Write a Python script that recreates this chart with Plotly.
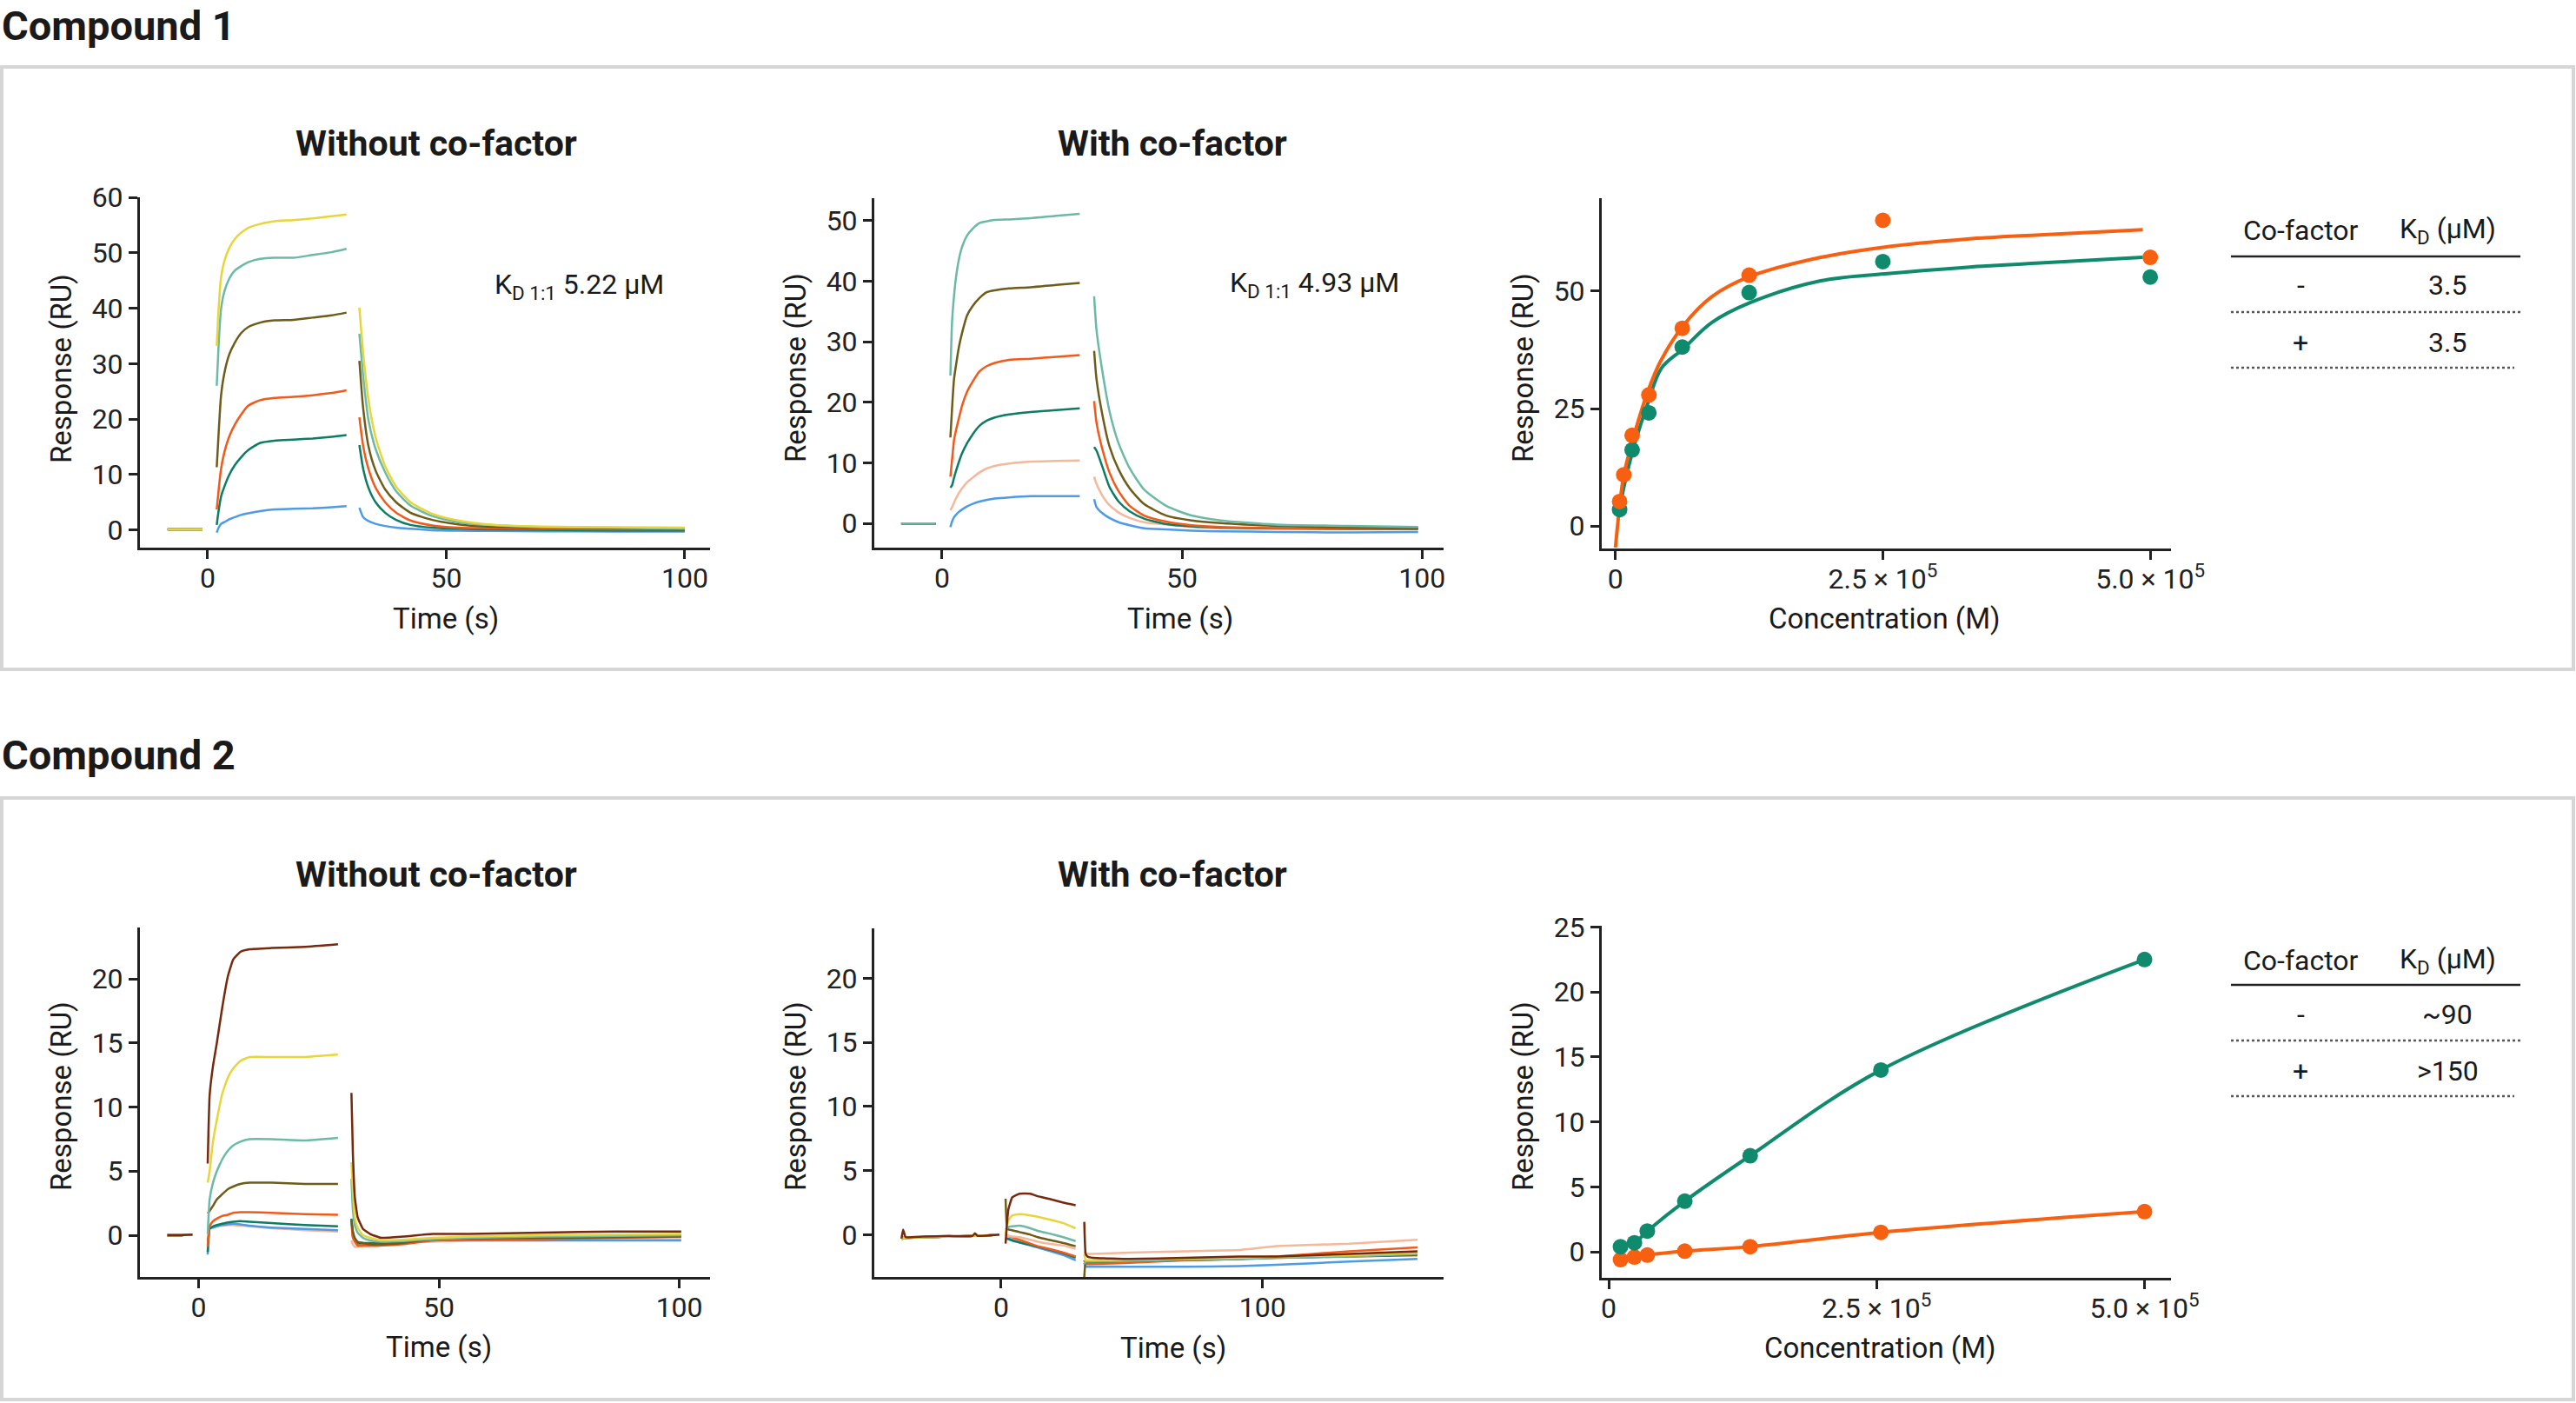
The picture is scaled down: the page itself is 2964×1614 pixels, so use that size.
import plotly.graph_objects as go

W, H = 2964, 1614
FONT = "Roboto"
INK = "#222222"

# ---------------- colours ----------------
YELLOW = "#e6d63c"
LTEAL = "#6cbaa6"
OLIVE = "#6e5c1a"
ORANGE = "#f05a1a"
DTEAL = "#0c7c62"
BLUE = "#4d9be6"
PEACH = "#f4b89a"
BROWN = "#76290c"
FIT_ORANGE = "#f76010"
FIT_GREEN = "#108a6d"

# ================= Compound 1 – without co-factor (panel A) =================
A_BASE_T = [-8.4, -4.7, -1.1]
A_BASE_Y = [0.1, 0.1, 0.1]
A_ASSOC_T = [1.9, 2.3, 2.8, 3.5, 4.5, 5.7, 7.0, 8.5, 11, 14, 18, 22, 26, 29.1]
A_YELLOW_ASSOC = [33.2, 40.0, 45.5, 48.5, 50.8, 52.5, 53.6, 54.5, 55.2, 55.7, 55.9, 56.2, 56.6, 56.9]
A_LTEAL_ASSOC = [26.0, 33.5, 39.8, 43.0, 45.3, 46.8, 47.6, 48.3, 48.9, 49.1, 49.1, 49.6, 50.1, 50.7]
A_OLIVE_ASSOC = [11.3, 17.5, 24.2, 28.3, 31.6, 33.8, 35.5, 36.6, 37.4, 37.8, 37.9, 38.3, 38.7, 39.2]
A_ORANGE_ASSOC = [3.7, 7.2, 11.0, 14.0, 16.8, 19.0, 20.8, 22.4, 23.4, 23.8, 24.0, 24.3, 24.7, 25.2]
A_DTEAL_ASSOC = [0.9, 3.5, 6.0, 7.8, 9.9, 11.7, 13.1, 14.4, 15.7, 16.1, 16.3, 16.5, 16.8, 17.1]
A_BLUE_ASSOC = [-0.5, 0.4, 1.1, 1.4, 1.9, 2.3, 2.7, 3.0, 3.4, 3.7, 3.8, 3.9, 4.1, 4.3]
A_DISS_T = [31.8, 32.6, 33.7, 35.2, 37.2, 39.5, 42.5, 47.1, 52.5, 58.6, 70, 85, 100]
A_YELLOW_DISS = [40.1, 31.9, 23.5, 16.7, 11.5, 7.8, 5.0, 2.9, 1.7, 1.0, 0.6, 0.5, 0.4]
A_LTEAL_DISS = [35.4, 27.7, 19.8, 14.6, 10.4, 7.0, 4.4, 2.5, 1.4, 0.9, 0.5, 0.4, 0.2]
A_OLIVE_DISS = [30.5, 21.9, 15.1, 10.7, 7.3, 5.0, 3.1, 1.8, 1.0, 0.6, 0.4, 0.3, 0.1]
A_ORANGE_DISS = [20.3, 15.1, 11.0, 7.6, 5.0, 3.1, 1.7, 0.8, 0.4, 0.3, 0.2, 0.1, 0.1]
A_DTEAL_DISS = [15.3, 11.0, 7.6, 5.0, 3.1, 1.8, 0.9, 0.4, 0.2, 0.1, 0.0, -0.1, -0.1]
A_BLUE_DISS = [4.0, 2.3, 1.6, 1.1, 0.7, 0.4, 0.2, -0.05, -0.15, -0.2, -0.25, -0.3, -0.3]

# ================= Compound 1 – with co-factor (panel B) =================
B_BASE_T = [-8.5, -4.9, -1.3]
B_BASE_Y = [0.0, 0.0, 0.0]
B_ASSOC_T = [1.75, 2.1, 2.5, 2.9, 3.5, 4.2, 5.2, 6.3, 7.8, 9.4, 11, 14, 18.5, 23.8, 28.7]
B_LTEAL_ASSOC = [24.4, 33.3, 37.5, 40.5, 43.5, 45.7, 47.5, 48.6, 49.6, 49.9, 50.1, 50.2, 50.4, 50.8, 51.1]
B_OLIVE_ASSOC = [14.2, 19.0, 23.8, 26.0, 29.0, 31.5, 34.3, 35.8, 37.2, 38.2, 38.5, 38.8, 39.0, 39.4, 39.7]
B_ORANGE_ASSOC = [7.7, 10.5, 13.7, 15.3, 17.3, 19.5, 21.7, 23.3, 25.1, 26.0, 26.5, 27.0, 27.2, 27.5, 27.8]
B_DTEAL_ASSOC = [5.9, 6.3, 7.5, 8.6, 10.1, 11.6, 13.2, 14.6, 16.1, 17.0, 17.5, 18.0, 18.4, 18.7, 19.0]
B_PEACH_ASSOC = [2.2, 2.7, 3.4, 4.1, 5.0, 5.8, 6.8, 7.5, 8.4, 9.1, 9.5, 9.9, 10.2, 10.3, 10.4]
B_BLUE_ASSOC = [-0.6, 0.3, 1.0, 1.4, 1.9, 2.3, 2.8, 3.2, 3.6, 3.9, 4.1, 4.3, 4.5, 4.5, 4.5]
B_DISS_T = [31.7, 32.2, 33.4, 34.9, 36.8, 39.1, 42.1, 46.7, 52.0, 58.1, 69.5, 84.8, 99.2]
B_LTEAL_DISS = [37.5, 31.9, 25.2, 18.5, 13.2, 9.1, 5.6, 2.9, 1.3, 0.5, -0.2, -0.4, -0.6]
B_OLIVE_DISS = [28.5, 23.8, 18.0, 12.7, 8.9, 5.8, 3.2, 1.3, 0.5, 0.05, -0.4, -0.7, -0.8]
B_ORANGE_DISS = [20.2, 16.6, 12.3, 8.4, 5.3, 2.9, 1.3, 0.3, -0.3, -0.6, -0.8, -0.9, -0.8]
B_DTEAL_DISS = [12.6, 12.0, 9.4, 6.0, 3.6, 2.0, 0.8, -0.1, -0.5, -0.7, -0.8, -0.9, -0.9]
B_PEACH_DISS = [7.7, 6.5, 4.6, 3.0, 1.8, 0.9, 0.2, -0.2, -0.6, -0.8, -0.9, -0.9, -0.9]
B_BLUE_DISS = [4.0, 2.7, 1.7, 0.9, 0.2, -0.3, -0.8, -1.0, -1.2, -1.3, -1.4, -1.5, -1.4]

# ================= Compound 1 – affinity (panel C) =================
C_CONC_ORANGE = [3906, 7812, 15625, 31250, 62500, 125000, 250000, 500000]
C_RESP_ORANGE = [5.2, 10.9, 19.3, 27.9, 42.1, 53.4, 65.1, 57.2]
C_CONC_GREEN = [3906, 15625, 31250, 62500, 125000, 250000, 500000]
C_RESP_GREEN = [3.5, 16.2, 24.1, 38.1, 49.7, 56.3, 53.0]
C_FIT_ORANGE_X = [0, 4400, 7900, 17400, 30400, 42000, 63200, 90000, 125400, 192000, 252000, 329000, 397000, 493000]
C_FIT_ORANGE_Y = [-4.6, 5.2, 10.9, 19.3, 28.7, 35.0, 42.6, 48.8, 53.1, 57.2, 59.4, 61.1, 62.0, 63.1]
C_FIT_GREEN_X = [2700, 7900, 17400, 30400, 43000, 63200, 90000, 125400, 192000, 252000, 329000, 397000, 493000]
C_FIT_GREEN_Y = [2.2, 8.3, 17.0, 26.2, 33.6, 37.7, 43.3, 47.5, 52.2, 53.7, 55.1, 56.0, 57.2]

# ================= Compound 2 – without co-factor (panel D) =================
D_BASE_T = [-6.5, -3.9, -1.3]
D_BASE_Y = [0.0, 0.0, 0.05]
D_ASSOC_T = [1.9, 2.3, 3.0, 3.8, 4.9, 6.1, 7.2, 8.7, 10.6, 15.2, 22.1, 29.0]
D_BROWN_ASSOC = [5.6, 10.9, 13.2, 15.0, 17.7, 20.2, 21.5, 22.1, 22.3, 22.4, 22.5, 22.7]
D_YELLOW_ASSOC = [4.1, 5.0, 7.3, 9.0, 11.0, 12.3, 13.0, 13.6, 13.9, 13.9, 13.9, 14.1]
D_LTEAL_ASSOC = [0.1, 2.8, 4.1, 5.0, 5.9, 6.6, 7.0, 7.3, 7.5, 7.5, 7.4, 7.6]
D_OLIVE_ASSOC = [1.7, 1.9, 2.3, 2.8, 3.2, 3.6, 3.8, 4.0, 4.1, 4.1, 4.0, 4.0]
D_ORANGE_ASSOC = [-0.9, 0.7, 1.1, 1.3, 1.5, 1.6, 1.75, 1.8, 1.8, 1.75, 1.65, 1.6]
D_DTEAL_ASSOC = [-1.3, 0.5, 0.7, 0.8, 0.9, 1.0, 1.05, 1.1, 1.05, 0.95, 0.8, 0.7]
D_BLUE_ASSOC = [-1.5, 0.5, 0.6, 0.7, 0.8, 0.85, 0.9, 0.85, 0.75, 0.6, 0.5, 0.4]
D_PEACH_ASSOC = [-0.4, 0.5, 0.6, 0.7, 0.75, 0.8, 0.8, 0.75, 0.7, 0.55, 0.4, 0.3]
D_DISS_T = [31.8, 32.1, 32.5, 33.1, 34.2, 35.7, 38.0, 42.6, 48.7, 56.3, 71.5, 86.7, 100.4]
D_BROWN_DISS = [11.1, 6.4, 3.0, 1.4, 0.5, 0.1, -0.2, -0.1, 0.1, 0.1, 0.2, 0.3, 0.3]
D_YELLOW_DISS = [5.7, 3.5, 1.4, 0.6, 0.0, -0.2, -0.4, -0.35, -0.2, -0.1, 0.0, 0.05, 0.1]
D_LTEAL_DISS = [4.4, 2.0, 0.8, 0.2, -0.2, -0.4, -0.5, -0.45, -0.3, -0.2, -0.1, -0.05, 0.0]
D_OLIVE_DISS = [1.2, 0.3, -0.2, -0.5, -0.6, -0.7, -0.7, -0.6, -0.3, -0.25, -0.2, -0.15, -0.1]
D_ORANGE_DISS = [1.2, -0.2, -0.5, -0.8, -0.8, -0.8, -0.8, -0.7, -0.4, -0.35, -0.3, -0.2, -0.1]
D_DTEAL_DISS = [1.3, 0.2, -0.3, -0.6, -0.6, -0.6, -0.6, -0.5, -0.3, -0.25, -0.2, -0.1, 0.0]
D_BLUE_DISS = [1.2, -0.1, -0.4, -0.7, -0.7, -0.7, -0.7, -0.6, -0.4, -0.4, -0.4, -0.4, -0.4]
D_PEACH_DISS = [-0.4, -0.7, -0.9, -0.9, -0.9, -0.9, -0.8, -0.6, -0.5, -0.4, -0.4, -0.3, -0.3]

# ================= Compound 2 – with co-factor (panel E) =================
E_BASE_T = [-38.1, -37.5, -36.5, -30, -20, -11, -10, -9, -0.7]
E_BROWN_BASE = [-0.3, 0.4, -0.2, -0.15, -0.1, -0.1, 0.1, -0.1, 0.0]
E_OTHER_BASE = [-0.35, -0.25, -0.25, -0.2, -0.15, -0.1, -0.05, -0.1, 0.0]
E_ASSOC_T = [1.7, 2.2, 2.8, 4.2, 7.0, 11.2, 14.0, 18.2, 23.8, 28.5]
E_BROWN_ASSOC = [-0.7, 0.8, 2.0, 2.9, 3.2, 3.2, 3.0, 2.8, 2.5, 2.3]
E_YELLOW_ASSOC = [0.0, 0.6, 1.1, 1.5, 1.6, 1.5, 1.4, 1.2, 0.9, 0.5]
E_LTEAL_ASSOC = [0.4, 0.5, 0.6, 0.65, 0.7, 0.5, 0.3, 0.1, -0.2, -0.5]
E_OLIVE_ASSOC = [2.8, 0.6, 0.4, 0.35, 0.2, 0.0, -0.2, -0.4, -0.65, -0.9]
E_PEACH_ASSOC = [0.0, -0.05, -0.1, -0.15, -0.2, -0.4, -0.55, -0.7, -0.85, -1.1]
E_ORANGE_ASSOC = [0.0, -0.05, -0.1, -0.2, -0.4, -0.7, -0.9, -1.1, -1.4, -1.7]
E_DTEAL_ASSOC = [-0.3, -0.3, -0.35, -0.45, -0.6, -0.8, -0.95, -1.15, -1.45, -1.8]
E_BLUE_ASSOC = [-0.4, -0.3, -0.3, -0.4, -0.6, -0.85, -1.0, -1.25, -1.6, -2.0]
E_DISS_T = [31.8, 32.3, 33.0, 35.1, 49.1, 70.1, 91.2, 105.2, 133.2, 159.2]
E_BROWN_DISS = [1.0, -1.5, -1.7, -1.8, -1.9, -1.8, -1.7, -1.7, -1.5, -1.3]
E_PEACH_DISS = [-1.3, -1.4, -1.5, -1.5, -1.4, -1.3, -1.2, -0.9, -0.7, -0.4]
E_ORANGE_DISS = [-2.0, -2.3, -2.3, -2.3, -2.2, -2.0, -1.9, -1.7, -1.3, -1.0]
E_DTEAL_DISS = [-2.0, -2.2, -2.2, -2.2, -2.1, -2.0, -1.9, -1.7, -1.6, -1.5]
E_YELLOW_DISS = [-1.5, -2.0, -2.0, -2.0, -1.95, -1.85, -1.8, -1.7, -1.6, -1.4]
E_LTEAL_DISS = [-2.3, -2.1, -2.1, -2.1, -2.05, -1.95, -1.9, -1.8, -1.7, -1.5]
E_OLIVE_DISS = [-3.3, -2.1, -2.1, -2.1, -2.05, -1.95, -1.9, -1.8, -1.7, -1.6]
E_BLUE_DISS = [-2.2, -2.5, -2.5, -2.5, -2.5, -2.5, -2.45, -2.35, -2.1, -1.9]

# ================= Compound 2 – affinity (panel F) =================
F_CONC = [11000, 24000, 36000, 71000, 132000, 254000, 500000]
F_RESP_GREEN = [0.4, 0.7, 1.6, 3.9, 7.4, 14.0, 22.5]
F_RESP_ORANGE = [-0.6, -0.4, -0.25, 0.05, 0.4, 1.5, 3.1]

# ---------------- text ----------------
SECTION_TITLES = ["Compound 1", "Compound 2"]
PANEL_TITLES = ["Without co-factor", "With co-factor"]
KD_LABELS = ["K<sub>D 1:1</sub> 5.22 μM", "K<sub>D 1:1</sub> 4.93 μM"]
TABLE_HEAD = ["Co-factor", "K<sub>D</sub> (μM)"]
TABLE1_ROWS = [["-", "3.5"], ["+", "3.5"]]
TABLE2_ROWS = [["-", "~90"], ["+", ">150"]]


def px(x):
    return x / W


def py(y):
    return 1 - y / H


fig = go.Figure()


def add_curve(ax, segs, color, width=2.5, smooth=0.6):
    xs, ys = [], []
    for t, v in segs:
        if xs:
            xs.append(None)
            ys.append(None)
        xs += list(t)
        ys += list(v)
    fig.add_trace(go.Scatter(
        x=xs, y=ys, mode="lines", connectgaps=False,
        line=dict(color=color, width=width, shape="spline", smoothing=smooth),
        xaxis="x" + ax, yaxis="y" + ax, showlegend=False, hoverinfo="skip"))


# Panel A
for col, asc, dis in [(BLUE, A_BLUE_ASSOC, A_BLUE_DISS), (DTEAL, A_DTEAL_ASSOC, A_DTEAL_DISS),
                      (ORANGE, A_ORANGE_ASSOC, A_ORANGE_DISS), (OLIVE, A_OLIVE_ASSOC, A_OLIVE_DISS),
                      (LTEAL, A_LTEAL_ASSOC, A_LTEAL_DISS), (YELLOW, A_YELLOW_ASSOC, A_YELLOW_DISS)]:
    add_curve("", [(A_BASE_T, A_BASE_Y), (A_ASSOC_T, asc), (A_DISS_T, dis)], col)

# Panel B
for col, asc, dis in [(BLUE, B_BLUE_ASSOC, B_BLUE_DISS), (PEACH, B_PEACH_ASSOC, B_PEACH_DISS),
                      (DTEAL, B_DTEAL_ASSOC, B_DTEAL_DISS), (ORANGE, B_ORANGE_ASSOC, B_ORANGE_DISS),
                      (OLIVE, B_OLIVE_ASSOC, B_OLIVE_DISS), (LTEAL, B_LTEAL_ASSOC, B_LTEAL_DISS)]:
    add_curve("2", [(B_BASE_T, B_BASE_Y), (B_ASSOC_T, asc), (B_DISS_T, dis)], col)

# Panel C
fig.add_trace(go.Scatter(x=C_FIT_GREEN_X, y=C_FIT_GREEN_Y, mode="lines",
                         line=dict(color=FIT_GREEN, width=4, shape="spline"),
                         xaxis="x3", yaxis="y3", showlegend=False, hoverinfo="skip"))
fig.add_trace(go.Scatter(x=C_FIT_ORANGE_X, y=C_FIT_ORANGE_Y, mode="lines",
                         line=dict(color=FIT_ORANGE, width=4, shape="spline"),
                         xaxis="x3", yaxis="y3", showlegend=False, hoverinfo="skip"))
fig.add_trace(go.Scatter(x=C_CONC_GREEN, y=C_RESP_GREEN, mode="markers",
                         marker=dict(color=FIT_GREEN, size=18),
                         xaxis="x3", yaxis="y3", showlegend=False, hoverinfo="skip"))
fig.add_trace(go.Scatter(x=C_CONC_ORANGE, y=C_RESP_ORANGE, mode="markers",
                         marker=dict(color=FIT_ORANGE, size=18),
                         xaxis="x3", yaxis="y3", showlegend=False, hoverinfo="skip"))

# Panel D
for col, asc, dis in [(PEACH, D_PEACH_ASSOC, D_PEACH_DISS), (BLUE, D_BLUE_ASSOC, D_BLUE_DISS),
                      (DTEAL, D_DTEAL_ASSOC, D_DTEAL_DISS), (ORANGE, D_ORANGE_ASSOC, D_ORANGE_DISS),
                      (OLIVE, D_OLIVE_ASSOC, D_OLIVE_DISS), (LTEAL, D_LTEAL_ASSOC, D_LTEAL_DISS),
                      (YELLOW, D_YELLOW_ASSOC, D_YELLOW_DISS), (BROWN, D_BROWN_ASSOC, D_BROWN_DISS)]:
    add_curve("4", [(D_BASE_T, D_BASE_Y), (D_ASSOC_T, asc), (D_DISS_T, dis)], col, smooth=0.4)

# Panel E
for col, base, asc, dis in [(BLUE, E_OTHER_BASE, E_BLUE_ASSOC, E_BLUE_DISS),
                            (DTEAL, E_OTHER_BASE, E_DTEAL_ASSOC, E_DTEAL_DISS),
                            (ORANGE, E_OTHER_BASE, E_ORANGE_ASSOC, E_ORANGE_DISS),
                            (PEACH, E_OTHER_BASE, E_PEACH_ASSOC, E_PEACH_DISS),
                            (OLIVE, E_OTHER_BASE, E_OLIVE_ASSOC, E_OLIVE_DISS),
                            (LTEAL, E_OTHER_BASE, E_LTEAL_ASSOC, E_LTEAL_DISS),
                            (YELLOW, E_OTHER_BASE, E_YELLOW_ASSOC, E_YELLOW_DISS),
                            (BROWN, E_BROWN_BASE, E_BROWN_ASSOC, E_BROWN_DISS)]:
    add_curve("5", [(E_BASE_T, base), (E_ASSOC_T, asc), (E_DISS_T, dis)], col, smooth=0.3)

# Panel F
for col, resp in [(FIT_ORANGE, F_RESP_ORANGE), (FIT_GREEN, F_RESP_GREEN)]:
    fig.add_trace(go.Scatter(x=F_CONC, y=resp, mode="lines+markers",
                             line=dict(color=col, width=4, shape="spline"),
                             marker=dict(color=col, size=18),
                             xaxis="x6", yaxis="y6", showlegend=False, hoverinfo="skip"))


def ax_common():
    return dict(showline=True, linewidth=3, linecolor=INK, ticks="outside", ticklen=10,
                tickwidth=2.5, tickcolor=INK, showgrid=False, zeroline=False, automargin=False,
                tickfont=dict(family=FONT, size=32, color=INK), fixedrange=True)


def xax_common():
    d = ax_common()
    d["ticklabelstandoff"] = -5
    return d


CONC_TICKS = [0, 250000, 500000]
CONC_TEXT = ["0", "2.5 × 10<sup>5</sup>", "5.0 × 10<sup>5</sup>"]

layout_axes = dict(
    xaxis=dict(domain=[px(161), px(817)], range=[-14.2, 105.3], anchor="y", tickvals=[0, 50, 100], **xax_common()),
    yaxis=dict(domain=[py(630), py(227)], range=[-3.2, 60], anchor="x", tickvals=[0, 10, 20, 30, 40, 50, 60], **ax_common()),
    xaxis2=dict(domain=[px(1006), px(1661)], range=[-14.1, 104.5], anchor="y2", tickvals=[0, 50, 100], **xax_common()),
    yaxis2=dict(domain=[py(630), py(228)], range=[-4.0, 53.7], anchor="x2", tickvals=[0, 10, 20, 30, 40, 50], **ax_common()),
    xaxis3=dict(domain=[px(1843), px(2498)], range=[-12800, 519400], anchor="y3", tickvals=CONC_TICKS, ticktext=CONC_TEXT, **xax_common()),
    yaxis3=dict(domain=[py(631), py(228)], range=[-4.8, 69.8], anchor="x3", tickvals=[0, 25, 50], **ax_common()),
    xaxis4=dict(domain=[px(161), px(817)], range=[-12.2, 106.4], anchor="y4", tickvals=[0, 50, 100], **xax_common()),
    yaxis4=dict(domain=[py(1469), py(1067)], range=[-3.25, 24.0], anchor="x4", tickvals=[0, 5, 10, 15, 20], **ax_common()),
    xaxis5=dict(domain=[px(1006), px(1661)], range=[-48.5, 169.2], anchor="y5", tickvals=[0, 100], **xax_common()),
    yaxis5=dict(domain=[py(1469), py(1068)], range=[-3.3, 23.9], anchor="x5", tickvals=[0, 5, 10, 15, 20], **ax_common()),
    xaxis6=dict(domain=[px(1843), px(2498)], range=[-6500, 524700], anchor="y6", tickvals=CONC_TICKS, ticktext=CONC_TEXT, **xax_common()),
    yaxis6=dict(domain=[py(1470), py(1065)], range=[-2.0, 25.1], anchor="x6", tickvals=[0, 5, 10, 15, 20, 25], **ax_common()),
)

ann = []


def text(x, y, s, size=31, bold=False, xanchor="center", angle=0):
    ann.append(dict(x=px(x), y=py(y), xref="paper", yref="paper", text=("<b>%s</b>" % s) if bold else s,
                    showarrow=False, xanchor=xanchor, yanchor="middle", textangle=angle,
                    font=dict(family=FONT, size=size, color="#1a1a1a")))


# section headings
text(0, 30, SECTION_TITLES[0], size=47, bold=True, xanchor="left")
text(0, 868, SECTION_TITLES[1], size=47, bold=True, xanchor="left")

for dy in (0, 841):
    text(502, 165 + dy, PANEL_TITLES[0], size=41, bold=True)
    text(1349, 165 + dy, PANEL_TITLES[1], size=41, bold=True)
    text(70, 424 + dy - (4 if dy else 0), "Response (RU)", size=33, angle=-90)
    text(915, 423 + dy - (3 if dy else 0), "Response (RU)", size=33, angle=-90)
    text(1752, 423 + dy - (3 if dy else 0), "Response (RU)", size=33, angle=-90)
    text(513 - (8 if dy else 0), 711 + (838 if dy else 0), "Time (s)", size=33)
    text(1358 - (8 if dy else 0), 711 + (839 if dy else 0), "Time (s)", size=33)
    text(2168 - (5 if dy else 0), 711 + (839 if dy else 0), "Concentration (M)", size=33)

text(567, 329, KD_LABELS[0], size=32, xanchor="left")
text(1413, 327, KD_LABELS[1], size=32, xanchor="left")

shapes = []


def hline(x0, x1, y, dash="solid", width=2.5, color=INK):
    shapes.append(dict(type="line", xref="paper", yref="paper", x0=px(x0), x1=px(x1), y0=py(y), y1=py(y),
                       line=dict(color=color, width=width, dash=dash)))


for (head_y, rule_y, rows, row_ys, dots) in [
        (265, 295, TABLE1_ROWS, [328, 394], [359, 423]),
        (1105, 1133, TABLE2_ROWS, [1167, 1232], [1197, 1261])]:
    text(2647, head_y, TABLE_HEAD[0], size=32)
    text(2816, head_y, TABLE_HEAD[1], size=32)
    hline(2567, 2900, rule_y, width=2.5)
    for r, ry in zip(rows, row_ys):
        text(2647, ry, r[0], size=32)
        text(2816, ry, r[1], size=32)
    hline(2567, 2900, dots[0], dash="dot", width=2.5, color="#555555")
    hline(2567, 2893, dots[1], dash="dot", width=2.5, color="#555555")

# boxes
for y0, y1 in [(77, 770), (918, 1610)]:
    shapes.append(dict(type="rect", xref="paper", yref="paper", x0=px(2), x1=px(2961), y0=py(y1), y1=py(y0),
                       line=dict(color="#d6d6d6", width=4), fillcolor="rgba(0,0,0,0)", layer="below"))

fig.update_layout(width=W, height=H, margin=dict(l=0, r=0, t=0, b=0, autoexpand=False), paper_bgcolor="white",
                  plot_bgcolor="white", annotations=ann, shapes=shapes,
                  font=dict(family=FONT, size=31, color=INK), **layout_axes)

PIN_SCRIPT = (
    "document.body.style.margin='0';document.body.style.padding='0';"
    "document.documentElement.style.overflow='hidden';document.body.style.overflow='hidden';"
    "var gd=document.getElementsByClassName('plotly-graph-div')[0];"
    "if(gd){gd.style.position='fixed';gd.style.left='0px';gd.style.top='0px';}"
)

fig.write_html("out.html", config={"displayModeBar": False}, post_script=PIN_SCRIPT)
